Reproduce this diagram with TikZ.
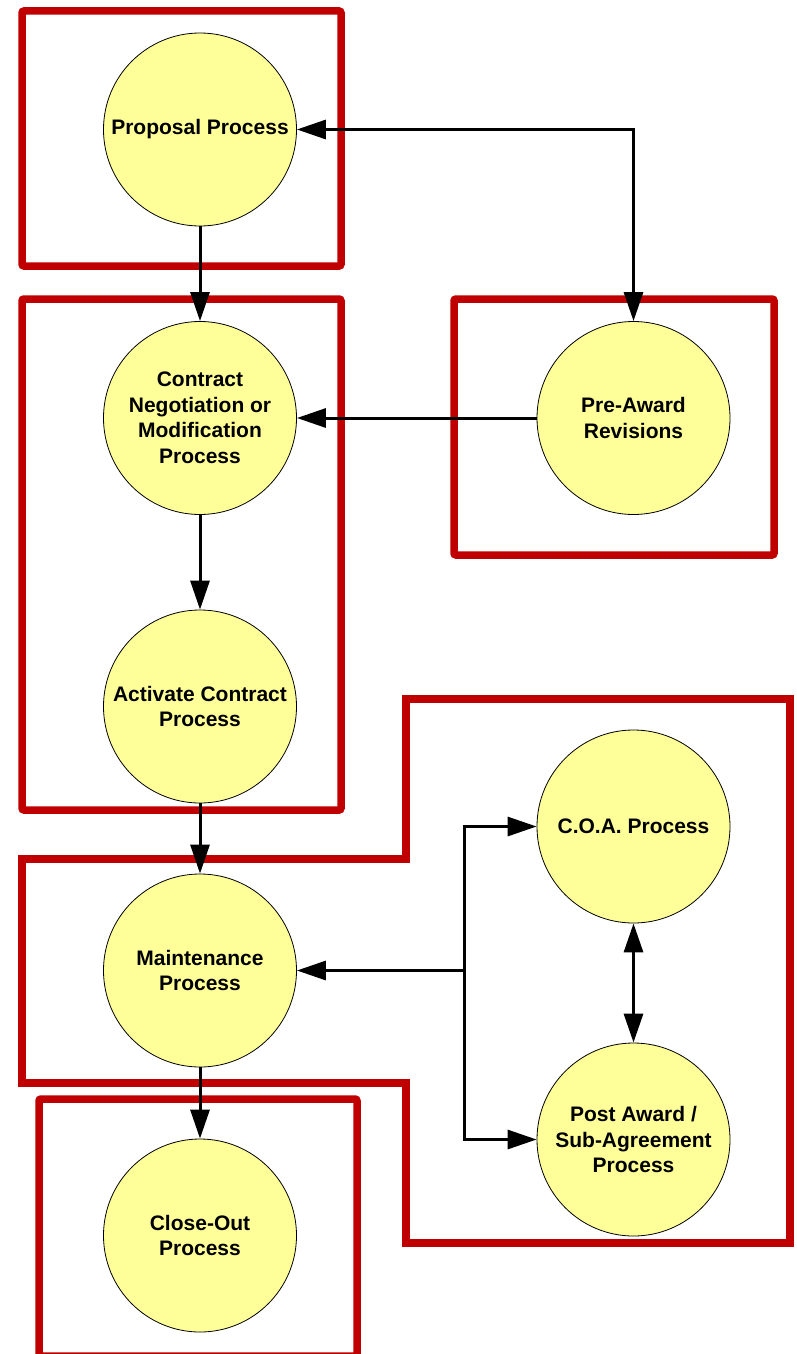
\documentclass[tikz,border=0pt]{standalone}
\usepackage{fontspec}
\setmainfont{Liberation Sans}
\usepackage{xcolor}
\usetikzlibrary{arrows.meta}
\definecolor{boxred}{HTML}{C00000}
\definecolor{procyellow}{HTML}{FFFF99}

\begin{document}
\begin{tikzpicture}[
    x=1pt, y=-1pt,
    proc/.style = {
        draw, circle, fill=procyellow, line width=0.8pt,
        minimum size=193pt, inner sep=0pt,
        label={[ptext]center:#1}
    },
    ptext/.style = {
        align=center, inner sep=0pt,
        font=\fontsize{21}{25.5}\selectfont\bfseries
    },
    group/.style = {draw=boxred, line width=7.5pt, rounded corners=2pt},
    link/.style = {line width=3pt, -{Triangle[length=29pt, width=19pt]}},
    dlink/.style = {line width=3pt,
        {Triangle[length=29pt, width=19pt]}-{Triangle[length=29pt, width=19pt]}}
]
\useasboundingbox (0,0) rectangle (796,1354);

% groups
\draw[group] (22,11) rectangle (341,266);
\draw[group] (22,299) rectangle (341,810);
\draw[group] (454,299) rectangle (774,555);
\draw[group, rounded corners=0pt, line join=miter]
    (406,699) -- (790,699) -- (790,1243) -- (406,1243) -- (406,1083)
    -- (22,1083) -- (22,859) -- (406,859) -- cycle;
\draw[group] (39,1099) rectangle (357,1356);

% processes
\node[proc={Proposal Process}] (proposal) at (200,129.5) {};
\node[proc={Contract\\Negotiation or\\Modification\\Process}] (contract) at (200,418) {};
\node[proc={Activate Contract\\Process}] (activate) at (200,706.5) {};
\node[proc={Maintenance\\Process}] (maint) at (200,970.5) {};
\node[proc={Close-Out\\Process}] (closeout) at (200,1235.5) {};
\node[proc={Pre-Award\\Revisions}] (preaward) at (633.5,418) {};
\node[proc={C.O.A. Process}] (coa) at (633.5,826.5) {};
\node[proc={Post Award /\\Sub-Agreement\\Process}] (postaward) at (633.5,1139.5) {};

\coordinate (split) at (464,970.5);

% flow
\draw[link] (proposal) -- (contract);
\draw[link] (contract) -- (activate);
\draw[link] (activate) -- (maint);
\draw[link] (maint) -- (closeout);
\draw[dlink] (proposal) -| (preaward);
\draw[link] (preaward) -- (contract);
\draw[link] (split) -- (maint);
\draw[link] (split) |- (coa);
\draw[link] (split) |- (postaward);
\draw[line width=3pt, line cap=rect] (split |- coa) -- (split |- postaward);
\draw[dlink] (coa) -- (postaward);
\end{tikzpicture}
\end{document}
